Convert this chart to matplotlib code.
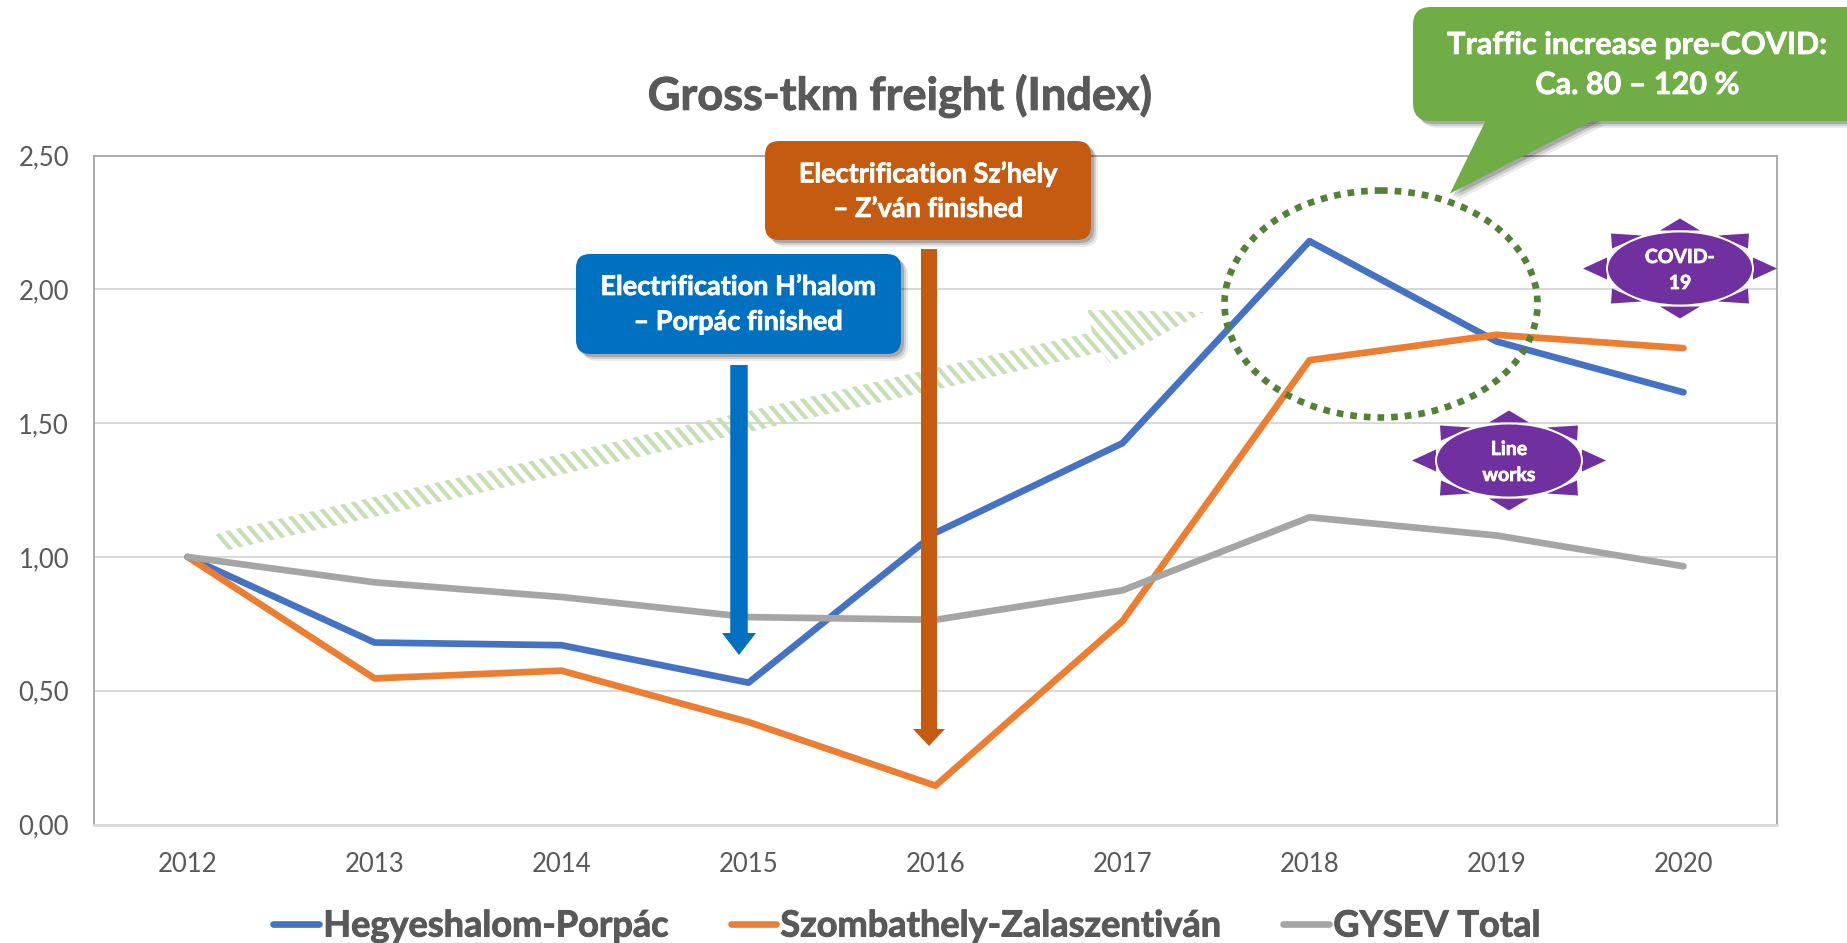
import matplotlib
matplotlib.use("Agg")
import matplotlib.pyplot as plt
from matplotlib.collections import LineCollection
from matplotlib.patches import FancyBboxPatch, Polygon, Ellipse
import matplotlib.patheffects as pe
import numpy as np

plt.rcParams["font.family"] = ["Lato", "DejaVu Sans"]

W, H = 1847, 943
DPI = 100

years = ["2012", "2013", "2014", "2015", "2016", "2017", "2018", "2019", "2020"]
hegyeshalom = [1.00, 0.68, 0.67, 0.53, 1.09, 1.425, 2.18, 1.805, 1.615]
szombathely = [1.00, 0.546, 0.575, 0.383, 0.145, 0.76, 1.735, 1.83, 1.78]
gysev = [1.00, 0.905, 0.85, 0.775, 0.765, 0.875, 1.148, 1.08, 0.965]
yticks = [0.0, 0.5, 1.0, 1.5, 2.0, 2.5]
ylabels = ["0,00", "0,50", "1,00", "1,50", "2,00", "2,50"]

BLUE = "#4472C4"
ORANGE = "#ED7D31"
GRAY = "#A5A5A5"
TEXT = "#595959"

fig = plt.figure(figsize=(W / DPI, H / DPI), dpi=DPI, facecolor="white")
ax = fig.add_axes([94 / W, 1 - 824.5 / H, (1777 - 94) / W, (824.5 - 155.5) / H])

x = np.arange(len(years))
for vals, col, name in [(hegyeshalom, BLUE, "Hegyeshalom-Porpác"),
                        (szombathely, ORANGE, "Szombathely-Zalaszentiván"),
                        (gysev, GRAY, "GYSEV Total")]:
    ax.plot(x, vals, color=col, lw=4.8, label=name, solid_capstyle="round",
            solid_joinstyle="round", zorder=3)

ax.set_xlim(-0.5, len(years) - 0.5)
ax.set_ylim(0, 2.5)
ax.set_xticks(x)
ax.set_xticklabels(years)
ax.set_yticks(yticks)
ax.set_yticklabels(ylabels)
ax.tick_params(length=0, labelsize=18.5, labelcolor=TEXT)
ax.tick_params(axis="x", pad=20)
ax.tick_params(axis="y", pad=18)
ax.grid(axis="y", color="#D9D9D9", lw=1.5)
ax.set_axisbelow(True)
for side in ["left", "right", "top"]:
    ax.spines[side].set_color("#A6A6A6")
    ax.spines[side].set_linewidth(1.3)
ax.spines["bottom"].set_color("#D9D9D9")
ax.spines["bottom"].set_linewidth(2)


def heavy(color, width=0.7):
    return [pe.withStroke(linewidth=width, foreground=color)]


fig.text(900 / W, 1 - 96 / H, "Gross-tkm freight (Index)", color=TEXT, fontsize=32.5,
         fontweight="bold", ha="center", va="center", path_effects=heavy(TEXT))

leg = fig.legend(*ax.get_legend_handles_labels(), loc="center", ncol=3,
                 bbox_to_anchor=(907 / W, 1 - 926 / H), frameon=False,
                 labelcolor=TEXT, prop={"weight": "bold", "size": 26},
                 handlelength=1.25, handletextpad=0.13, columnspacing=1.72,
                 borderpad=0, borderaxespad=0)
for t in leg.get_texts():
    t.set_path_effects(heavy(TEXT))

# overlay in picture pixels for the slide shapes on top of the chart
ov = fig.add_axes([0, 0, 1, 1], facecolor="none")
ov.set_xlim(0, W)
ov.set_ylim(H, 0)
ov.axis("off")


def label(cx, cy, s, size):
    ov.text(cx, cy, s, color="white", fontsize=size, fontweight="bold", ha="center",
            va="center", zorder=8, path_effects=heavy("white", 0.5))


def add_shadow(make_patch, z):
    for off, alpha in [(7, 0.08), (5, 0.12), (3, 0.18)]:
        p = make_patch(off)
        p.set(facecolor="black", edgecolor="none", alpha=alpha, zorder=z)
        ov.add_patch(p)


def round_box(x0, y0, x1, y1, color, r=14, z=6):
    def make(off):
        return FancyBboxPatch((x0 + r + off, y0 + r + off), x1 - x0 - 2 * r, y1 - y0 - 2 * r,
                              boxstyle="round,pad=%d,rounding_size=%d" % (r, r))
    add_shadow(make, z)
    box = make(0)
    box.set(facecolor=color, edgecolor="none", zorder=z + 0.2)
    ov.add_patch(box)


def down_arrow(cx, top, tip, shaft, head_w, head_l, color, z=5):
    pts = [(cx - shaft / 2, top), (cx + shaft / 2, top), (cx + shaft / 2, tip - head_l),
           (cx + head_w / 2, tip - head_l), (cx, tip), (cx - head_w / 2, tip - head_l),
           (cx - shaft / 2, tip - head_l)]
    ov.add_patch(Polygon(pts, closed=True, facecolor=color, edgecolor="none", zorder=z))


def sun(cx, cy, lines):
    purple = "#7030A0"
    rays = [[(-20, -38), (0, -50), (20, -38)],
            [(-20, 38), (0, 50), (20, 38)],
            [(-73, -11), (-97, 0), (-73, 11)],
            [(73, -11), (97, 0), (73, 11)],
            [(-68, -20), (-69, -35), (-38, -33)],
            [(68, -20), (69, -35), (38, -33)],
            [(-68, 20), (-69, 35), (-38, 33)],
            [(68, 20), (69, 35), (38, 33)]]
    for ray in rays:
        ov.add_patch(Polygon([(cx + a, cy + b) for a, b in ray], closed=True,
                             facecolor=purple, edgecolor="none", zorder=7))
    ov.add_patch(Ellipse((cx, cy), 146, 74, facecolor=purple, edgecolor="white", lw=1.4, zorder=7.2))
    label(cx, cy - 11, lines[0], 14)
    label(cx, cy + 15, lines[1], 14)


# hatched growth arrow, stripes clipped to the arrow outline
growth = [(205, 540), (222, 532), (1092, 332), (1088, 310), (1204, 312), (1110, 363),
          (1102, 352), (228, 550)]
outline = Polygon(growth, closed=True, facecolor="none", edgecolor="none", zorder=2)
ov.add_patch(outline)
starts = np.arange(0, 1300, 12.5)
stripes = LineCollection([[(s, 280), (s + 240, 560)] for s in starts], colors="#C5E0B4",
                         linewidths=3.0, zorder=2)
ov.add_collection(stripes)
stripes.set_clip_path(outline)

# dotted circle
ov.add_patch(Ellipse((1381, 304), 313, 227, facecolor="none", edgecolor="#548235", lw=4.8,
                     linestyle=(0, (1.0, 1.05)), zorder=5))

# electrification boxes and arrows
down_arrow(739, 365, 655, 17.5, 34, 22, "#0070C0")
down_arrow(929, 249, 746, 16, 32, 17, "#C55A11")
round_box(576, 254, 901, 354, "#0070C0")
round_box(765, 141, 1091, 240, "#C55A11")
label(738, 287, "Electrification H’halom", 19.5)
label(738, 322, "– Porpác finished", 19.5)
label(928, 174, "Electrification Sz’hely", 19.5)
label(928, 209, "– Z’ván finished", 19.5)

# green call-out, box runs off the right edge
tail = [(1487, 118), (1598, 118), (1450, 193.5)]
add_shadow(lambda off: Polygon([(a + off, b + off) for a, b in tail], closed=True), 6)
round_box(1413, 7, 1900, 121, "#70AD47", r=18)
ov.add_patch(Polygon(tail, closed=True, facecolor="#70AD47", edgecolor="none", zorder=6.3))
label(1637, 45, "Traffic increase pre-COVID:", 22)
label(1637, 85, "Ca. 80 – 120 %", 22)

sun(1680, 268.5, ["COVID-", "19"])
sun(1509, 460.5, ["Line", "works"])

fig.savefig("out.png", dpi=DPI)
